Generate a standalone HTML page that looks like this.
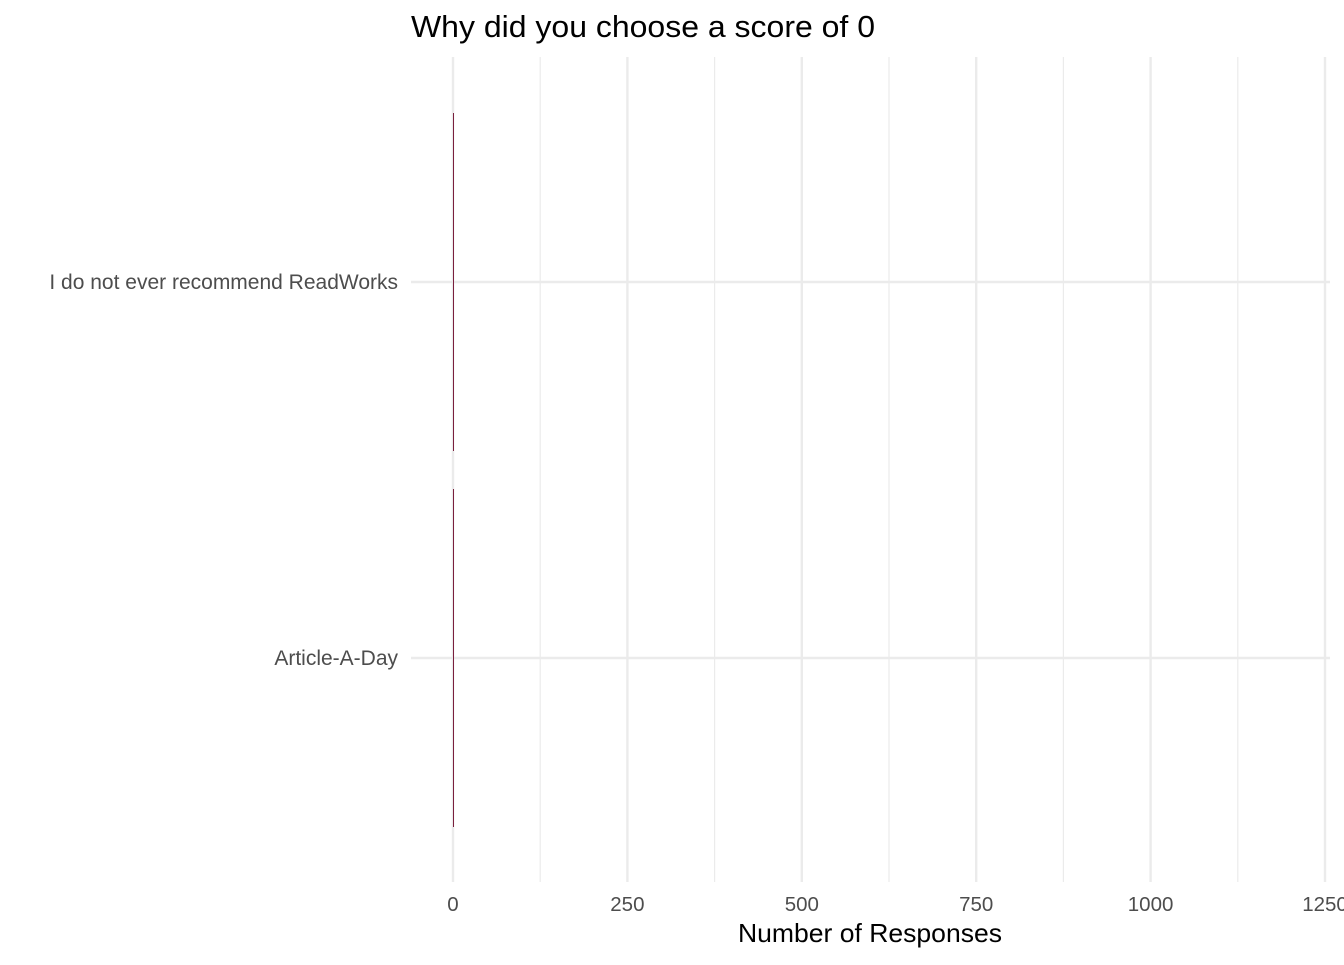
<!DOCTYPE html>
<html><head><meta charset="utf-8"><style>
body{margin:0;background:#fff;font-family:"Liberation Sans",Arial,sans-serif}
</style></head><body>
<svg id="chart" width="1344" height="960" xmlns="http://www.w3.org/2000/svg">
<text x="411" y="37" font-size="31" textLength="464" lengthAdjust="spacingAndGlyphs" fill="#000">Why did you choose a score of 0</text>
<g id="grid"></g><g id="bars"></g><g id="ylabels"></g><g id="xlabels"></g>
<text x="738" y="942" font-size="26" textLength="264" lengthAdjust="spacingAndGlyphs" fill="#000">Number of Responses</text>
</svg>
<script>
const categories=["I do not ever recommend ReadWorks","Article-A-Day"];
const values=[1,1];
const xTicks=[0,250,500,750,1000,1250];
const xMinor=[125,375,625,875,1125];
const x=v=>453+v*(1325-453)/1250;
const yC=i=>282+i*376;
const NS="http://www.w3.org/2000/svg";
function mk(t,a,p){const e=document.createElementNS(NS,t);for(const k in a)e.setAttribute(k,a[k]);p.appendChild(e);return e;}
const grid=document.getElementById('grid');
xMinor.forEach(v=>{const l=mk('line',{x1:x(v),x2:x(v),y1:57,y2:882,stroke:'#ebebeb','stroke-width':1.2},grid);

});
xTicks.forEach(v=>{const l=mk('line',{x1:x(v),x2:x(v),y1:57,y2:882,stroke:'#ebebeb','stroke-width':2.4},grid);


const t=mk('text',{x:x(v),y:911,'font-size':20.5,'text-anchor':'middle',fill:'#4d4d4d'},document.getElementById('xlabels'));t.textContent=v;

});
categories.forEach((c,i)=>{const l=mk('line',{x1:411,x2:1330,y1:yC(i),y2:yC(i),stroke:'#ebebeb','stroke-width':2.4},grid);


const b=mk('rect',{x:x(0),y:yC(i)-169,width:Math.max(1,x(values[i])-x(0)),height:338,fill:'#7a1f3d'},document.getElementById('bars'));


const t=mk('text',{x:398,y:yC(i)+7,'font-size':21,'text-anchor':'end',fill:'#4d4d4d'},document.getElementById('ylabels'));t.textContent=c;

});
</script>
</body></html>
